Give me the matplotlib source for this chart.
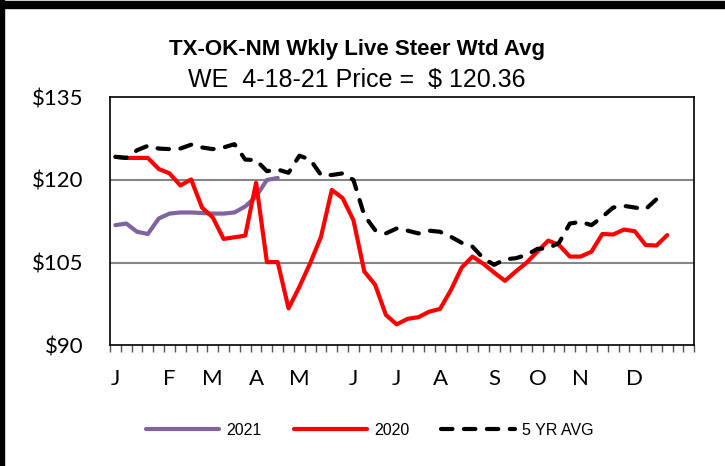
import numpy as np
import matplotlib
matplotlib.use("Agg")
import matplotlib.pyplot as plt
from matplotlib.lines import Line2D

# weekly prices, $/cwt
price_2021 = [111.8, 112.1, 110.6, 110.2, 113.0, 113.9, 114.1, 114.1, 114.0, 113.9,
              113.9, 114.1, 115.2, 117.0, 120.0, 120.36]
price_2020 = [124.2, 124.0, 124.0, 124.0, 122.0, 121.2, 119.0, 120.1, 115.0, 113.2,
              109.3, 109.6, 109.9, 119.5, 105.1, 105.1, 96.7, 100.6, 104.9, 109.7,
              118.2, 116.7, 112.7, 103.4, 101.0, 95.5, 93.8, 94.8, 95.1, 96.1,
              96.6, 100.0, 104.1, 106.1, 104.8, 103.2, 101.7, 103.4, 105.0, 107.0,
              109.0, 108.2, 106.1, 106.1, 107.0, 110.2, 110.1, 111.0, 110.7, 108.2,
              108.1, 110.0]
avg_5yr = [124.2, 124.0, 125.4, 126.2, 125.7, 125.6, 125.7, 126.4, 125.9, 125.6,
           125.9, 126.5, 123.7, 123.6, 121.6, 121.9, 121.3, 124.4, 123.7, 120.9,
           120.9, 121.2, 120.0, 113.6, 110.9, 110.3, 111.2, 110.8, 110.3, 110.8,
           110.6, 109.7, 108.6, 107.9, 105.8, 104.6, 105.6, 105.8, 106.4, 107.5,
           107.6, 108.6, 112.1, 112.4, 111.8, 113.3, 115.0, 115.3, 115.0, 114.7,
           116.5]

n_weeks = 54
month_labels = ["J", "F", "M", "A", "M", "J", "J", "A", "S", "O", "N", "D"]
month_weeks = [0, 5, 9, 13, 17, 22, 26, 30, 35, 39, 43, 48]
y_ticks = [90, 105, 120, 135]

PURPLE = "#8064A2"
RED = "#FF0000"

fig = plt.figure(figsize=(7.25, 4.66), dpi=100)
ax = fig.add_axes([110 / 725, 1 - 345.3 / 466, 584.3 / 725, 248 / 466])

lw = 3.0
dash = (0, (2.75, 2.75))
ax.plot(range(len(price_2021)), price_2021, color=PURPLE, lw=lw,
        solid_capstyle="round", solid_joinstyle="round", zorder=3)
ax.plot(range(len(price_2020)), price_2020, color=RED, lw=lw,
        solid_capstyle="round", solid_joinstyle="round", zorder=4)
ax.plot(range(len(avg_5yr)), avg_5yr, color="black", lw=lw, linestyle=dash,
        dash_capstyle="round", zorder=5)

ax.set_xlim(-0.5, n_weeks - 0.5)
ax.set_ylim(90, 135)

for v in [105, 120]:
    ax.axhline(v, color="#868686", lw=1.5, zorder=1)

ax.set_yticks(y_ticks)
ax.set_yticklabels([f"${v}" for v in y_ticks])
ax.set_xticks(month_weeks)
ax.set_xticklabels(month_labels)
ax.set_xticks(np.arange(-0.5, n_weeks), minor=True)
ax.tick_params(axis="y", length=0, pad=19, labelsize=16)
ax.tick_params(axis="x", which="major", length=0, pad=17, labelsize=16)
ax.tick_params(axis="x", which="minor", length=5, width=1, color="#555555")
for lab in ax.get_xticklabels() + ax.get_yticklabels():
    lab.set_fontfamily("Lato")

for s in ax.spines.values():
    s.set_color("black")
    s.set_linewidth(1.2)

fig.text(0.4924, 0.893, "TX-OK-NM Wkly Live Steer Wtd Avg", ha="center", va="center",
         fontsize=16, fontweight="bold", family="Liberation Sans")
fig.text(0.4924, 0.828, "WE  4-18-21 Price =  $ 120.36", ha="center", va="center",
         fontsize=18, family="Liberation Sans")

handles = [
    Line2D([], [], color=PURPLE, lw=lw, solid_capstyle="round"),
    Line2D([], [], color=RED, lw=lw, solid_capstyle="round"),
    Line2D([], [], color="black", lw=lw, linestyle=dash, dash_capstyle="round"),
]
fig.legend(handles, ["2021", "2020", "5 YR AVG"], loc="center", bbox_to_anchor=(0.51, 0.077),
           ncol=3, frameon=False, handlelength=4.6, handletextpad=0.45, columnspacing=2.0,
           prop={"family": "Liberation Sans", "size": 11.5})

# outer frame like the source image
fig.patches.append(plt.Rectangle((0, 1 - 8 / 466), 1, 7 / 466, transform=fig.transFigure,
                                 color="black", zorder=10))
fig.patches.append(plt.Rectangle((0, 0), 4 / 725, 1, transform=fig.transFigure,
                                 color="black", zorder=10))

fig.savefig("out.png", dpi=100)
